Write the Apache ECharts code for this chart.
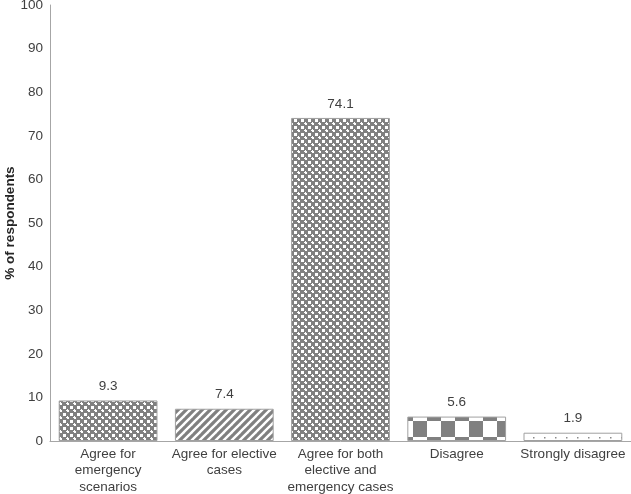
<!DOCTYPE html>
<html>
<head>
<meta charset="utf-8">
<script src="https://cdn.jsdelivr.net/npm/echarts@6/dist/echarts.min.js"></script>
<style>
html,body{margin:0;padding:0;background:#fff;}
#chart{width:631px;height:494px;}
</style>
</head>
<body>
<div id="chart"></div>
<script>
var categories = ["Agree for\nemergency\nscenarios", "Agree for elective\ncases", "Agree for both\nelective and\nemergency cases", "Disagree", "Strongly disagree"];
var values = [9.3, 7.4, 74.1, 5.6, 1.9];
var yTicks = {min: 0, max: 100, interval: 10};

var GRAY = '#808080';
function makeTile(w, h, draw) {
  var c = document.createElement('canvas');
  c.width = w; c.height = h;
  var ctx = c.getContext('2d');
  draw(ctx, w, h);
  return c;
}
var smallCheck = makeTile(7, 7, function (ctx, w, h) {
  ctx.fillStyle = GRAY; ctx.fillRect(0, 0, w, h);
  ctx.fillStyle = '#fff';
  ctx.fillRect(0, 0, 3, 3);
  ctx.fillRect(4, 4, 2, 2);
  ctx.fillRect(3, 4, 1, 1);
  ctx.fillRect(4, 3, 1, 1);
});
var diag = makeTile(8, 8, function (ctx, w, h) {
  ctx.fillStyle = GRAY; ctx.fillRect(0, 0, w, h);
  ctx.strokeStyle = '#fff'; ctx.lineWidth = 2.4;
  for (var k = -1; k <= 1; k++) {
    ctx.beginPath();
    ctx.moveTo(k * 8 - 1, 9);
    ctx.lineTo(k * 8 + 9, -1);
    ctx.stroke();
  }
});
var bigCheck = makeTile(28, 32, function (ctx, w, h) {
  ctx.fillStyle = '#fff'; ctx.fillRect(0, 0, w, h);
  ctx.fillStyle = GRAY;
  ctx.fillRect(21, 5, 7, 16);
  ctx.fillRect(0, 5, 7, 16);
  ctx.fillRect(7, 21, 14, 11);
  ctx.fillRect(7, 0, 14, 5);
});
var dots = makeTile(11, 8, function (ctx, w, h) {
  ctx.fillStyle = '#fff'; ctx.fillRect(0, 0, w, h);
  ctx.fillStyle = '#8a8a8a';
  ctx.fillRect(5, 5, 1.5, 1.5);
});
var patterns = [smallCheck, diag, smallCheck, bigCheck, dots];

var chart = echarts.init(document.getElementById('chart'), null, {renderer: 'canvas'});
var font = 'Liberation Sans, Arial, sans-serif';
chart.setOption({
  animation: false,
  grid: {left: 50, right: 0, top: 5, bottom: 53, containLabel: false, outerBoundsMode: 'none'},
  xAxis: {
    type: 'category',
    data: categories,
    axisLine: {show: true, lineStyle: {color: '#a6a6a6', width: 1}},
    axisTick: {show: false},
    axisLabel: {color: '#404040', fontSize: 13.5, fontFamily: font, lineHeight: 16.5, margin: 5, interval: 0}
  },
  yAxis: {
    type: 'value',
    min: yTicks.min, max: yTicks.max, interval: yTicks.interval,
    name: '% of respondents',
    nameLocation: 'middle',
    nameGap: 33,
    nameMoveOverlap: false,
    nameTextStyle: {color: '#262626', fontSize: 13.5, fontWeight: 'bold', fontFamily: font},
    axisLine: {show: true, lineStyle: {color: '#a6a6a6', width: 1}},
    axisTick: {show: false},
    splitLine: {show: false},
    axisLabel: {color: '#404040', fontSize: 13.5, fontFamily: font, margin: 7}
  },
  series: [{
    type: 'bar',
    barCategoryGap: '15%',
    data: values.map(function (v, i) {
      return {
        value: v,
        itemStyle: {
          color: {image: patterns[i], repeat: 'repeat'},
          borderColor: '#a0a0a0', borderWidth: 1
        }
      };
    }),
    label: {
      show: true, position: 'top', distance: 7,
      color: '#404040', fontSize: 13.5, fontFamily: font
    }
  }]
});
</script>
</body>
</html>
